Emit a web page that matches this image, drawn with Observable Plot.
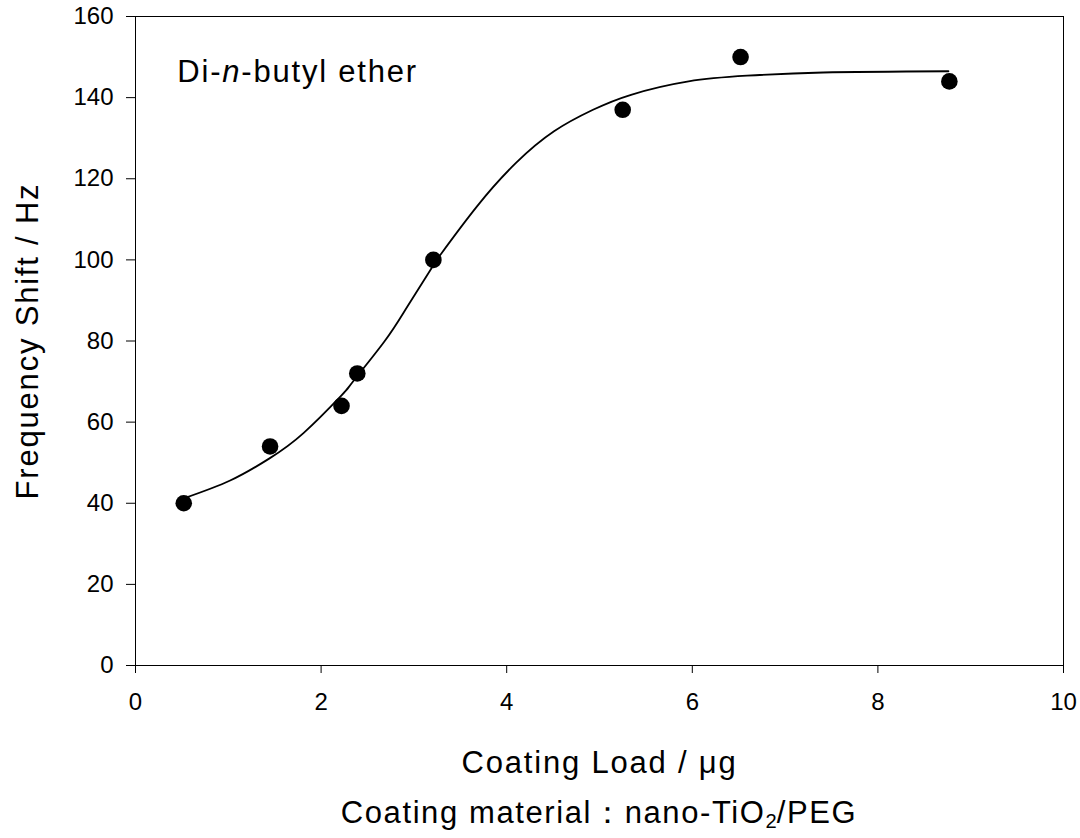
<!DOCTYPE html>
<html>
<head>
<meta charset="utf-8">
<script src="https://cdn.jsdelivr.net/npm/d3@7"></script>
<script src="https://cdn.jsdelivr.net/npm/@observablehq/plot@0.6"></script>
<style>
  html, body { margin: 0; padding: 0; background: white; }
  #chart { width: 1080px; }
  #cap {
    width: 1080px; box-sizing: border-box; padding-left: 118px;
    text-align: center; font-family: 'Liberation Sans', Arial, sans-serif;
    font-size: 31px; letter-spacing: 1.6px; line-height: 46px; height: 48px; color: black;
  }
  #cap sub { font-size: 0.65em; line-height: 0; vertical-align: -0.25em; letter-spacing: 0; }
</style>
</head>
<body>
<div id="chart"></div>
<div id="cap">Coating material：nano-TiO<sub>2</sub>/PEG</div>
<script>
// Measured points
const loadX = [0.52, 1.45, 2.22, 2.39, 3.21, 5.25, 6.52, 8.77];
const shiftY = [40, 54, 64, 72, 100, 137, 150, 144];

// Fitted curve
const fitX = [0.52, 1.02, 1.44, 1.81, 2.22, 2.34, 2.68, 2.93, 3.20, 3.29, 3.68, 4.10, 4.51, 4.93, 5.34, 5.96, 6.59, 7.41, 8.76];
const fitY = [41.2, 45.6, 51.0, 57.3, 66.6, 69.9, 79.8, 88.5, 98.3, 101.4, 113.2, 123.9, 131.7, 137.0, 140.7, 144.0, 145.4, 146.2, 146.5];

// Ticks
const xTicks = [0, 2, 4, 6, 8, 10];
const yTicks = [0, 20, 40, 60, 80, 100, 120, 140, 160];

// Texts
const xLabel = "Coating Load / μg";
const yLabel = "Frequency Shift / Hz";
const annText = ["Di-n-butyl ether"];
const annX = [0.45];
const annY = [146.2];

const points = loadX.map((x, i) => ({x, y: shiftY[i]}));
const fit = fitX.map((x, i) => ({x, y: fitY[i]}));
const ann = annText.map((t, i) => ({t, x: annX[i], y: annY[i]}));

const svg = Plot.plot({
  width: 1080,
  height: 790,
  marginLeft: 135,
  marginRight: 17,
  marginTop: 16,
  marginBottom: 125,
  style: {fontFamily: "'Liberation Sans', Arial, sans-serif", fontSize: "24px", color: "black", background: "white", overflow: "visible"},
  x: {domain: [0, 10]},
  y: {domain: [0, 160]},
  marks: [
    Plot.frame({stroke: "black", strokeWidth: 1}),
    Plot.axisX({ticks: xTicks, tickSize: 8, tickPadding: 19, fontSize: 24, label: null, tickFormat: d => String(d)}),
    Plot.axisY({ticks: yTicks, tickSize: 9, tickPadding: 13, fontSize: 24, label: null, tickFormat: d => String(d)}),
    Plot.line(fit, {x: "x", y: "y", curve: "natural", stroke: "black", strokeWidth: 1.8}),
    Plot.dot(points, {x: "x", y: "y", r: 8.3, fill: "black", stroke: "none"}),
    Plot.text(ann, {x: "x", y: "y", text: "t", textAnchor: "start", lineAnchor: "middle", fontSize: 31, fill: "black"}),
    Plot.text([xLabel], {frameAnchor: "bottom", dy: 98, textAnchor: "middle", lineAnchor: "middle", fontSize: 31, fill: "black"}),
    Plot.text([yLabel], {frameAnchor: "left", dx: -107, rotate: -90, textAnchor: "middle", lineAnchor: "middle", fontSize: 31, fill: "black"})
  ]
});

document.getElementById("chart").appendChild(svg);

// letter spacing on the large labels
d3.select(svg).selectAll('g[aria-label="text"] text').style("letter-spacing", "1.8px");

// italic n in annotation
d3.select(svg).selectAll('g[aria-label="text"] text').each(function() {
  if (this.textContent === "Di-n-butyl ether") {
    const t = d3.select(this);
    t.text("");
    t.append("tspan").text("Di-");
    t.append("tspan").style("font-style", "italic").text("n");
    t.append("tspan").text("-butyl ether");
  }
});
</script>
</body>
</html>
